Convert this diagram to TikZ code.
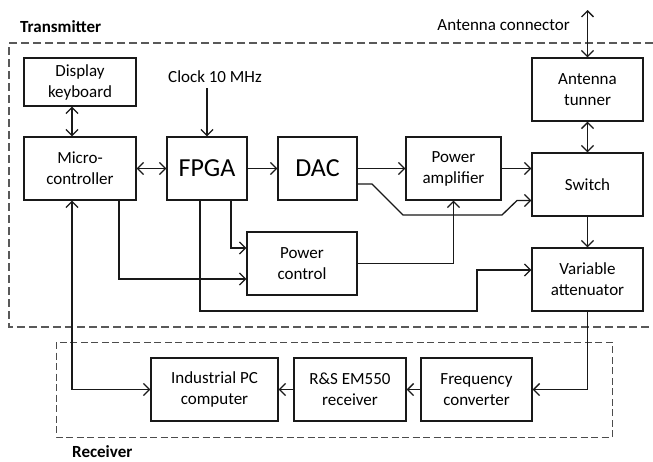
\documentclass[tikz,border=0pt]{standalone}
\usepackage{fontspec}
\setmainfont{Carlito}
\usetikzlibrary{arrows.meta}
\begin{document}
\begin{tikzpicture}[x=1pt,y=-1pt,
  every node/.style={font=\fontsize{17}{21}\selectfont},
  blk/.style={draw=black!90,line width=1.3pt,align=center,inner sep=0pt},
  big/.style={font=\fontsize{26}{30}\selectfont},
  conn/.style={line width=1.3pt,draw=black!90},
  tip/.style={-{Straight Barb[length=6pt,width=12pt,line width=1.3pt]}},
  dtip/.style={{Straight Barb[length=6pt,width=12pt,line width=1.3pt]}-{Straight Barb[length=6pt,width=12pt,line width=1.3pt]}},
  tx/.style={draw=black!65,line width=1.3pt,dash pattern=on 8pt off 4pt},
  rx/.style={draw=black!70,line width=1pt,dash pattern=on 7pt off 3.5pt},
  lbl/.style={font=\bfseries\fontsize{17}{21}\selectfont,anchor=west,inner sep=0pt}
]
\useasboundingbox (0,0) rectangle (653,461);
% group boxes
\draw[tx] (653,43) -- (9,43) -- (9,327) -- (653,327);
\draw[rx] (56,342) rectangle (612,437);
\node[lbl] (txl) at (20,27) {Transmitter};
\node[lbl] (rxl) at (72,452) {Receiver};
% blocks
\node[blk,minimum width=112pt,minimum height=48pt] (disp) at (80,82) {Display\\keyboard};
\node[blk,minimum width=112pt,minimum height=63pt] (micro) at (80,168.5) {Micro-\\controller};
\node[blk,big,minimum width=80pt,minimum height=63pt] (fpga) at (207,168.5) {FPGA};
\node[blk,big,minimum width=79pt,minimum height=63pt] (dac) at (317.5,168.5) {DAC};
\node[blk,minimum width=95pt,minimum height=63pt] (pa) at (453.5,168.5) {Power\\amplifier};
\node[blk,minimum width=111pt,minimum height=63pt] (tun) at (587.5,89.5) {Antenna\\tunner};
\node[blk,minimum width=111pt,minimum height=63pt] (sw) at (587.5,184.5) {Switch};
\node[blk,minimum width=110pt,minimum height=63pt] (pc) at (302,263.5) {Power\\control};
\node[blk,minimum width=111pt,minimum height=63pt] (va) at (587.5,279.5) {Variable\\attenuator};
\node[blk,minimum width=127pt,minimum height=63pt] (ipc) at (214.5,389.5) {Industrial PC\\computer};
\node[blk,minimum width=112pt,minimum height=63pt] (rs) at (350,389.5) {R\&S EM550\\receiver};
\node[blk,minimum width=111pt,minimum height=63pt] (fc) at (476.5,389.5) {Frequency\\converter};
% free texts
\node[anchor=east,inner sep=0pt] (antl) at (570,25) {Antenna connector};
\node[inner sep=0pt] (clk) at (215,77) {Clock 10 MHz};
\coordinate (antc) at (587.5,10);
% connectors
\draw[conn,dtip] ([xshift=-8pt]disp.south) -- ([xshift=-8pt]micro.north);
\draw[conn,dtip] (micro) -- (fpga);
\draw[conn,tip] (fpga) -- (dac);
\draw[conn,tip] (dac) -- (pa);
\draw[conn,tip] (pa.east) -- (pa.east -| sw.west);
\draw[conn,tip] ([yshift=-15.5pt]dac.east) -- (372,184) -- (403,215) -- (502,215) -- (517,200.5) -- (sw.west |- 0,200.5);
\draw[conn,dtip] (antc) -- (tun.north);
\draw[conn,dtip] (tun) -- (sw);
\draw[conn,tip] (sw) -- (va);
\draw[conn,tip] (fpga.north |- clk.south) ++(0,5) -- (fpga.north);
\draw[conn,tip] ([xshift=24pt]fpga.south) |- ([yshift=15.5pt]pc.west);
\draw[conn,tip] ([xshift=39pt]micro.south) |- ([yshift=-15.5pt]pc.west);
\draw[conn,tip] (pc.east) -| (pa.south);
\draw[conn,tip] ([xshift=-7pt]fpga.south) |- (477,311) |- ([yshift=9.5pt]va.west);
\draw[conn,dtip] ([xshift=-8pt]micro.south) |- (ipc.west);
\draw[conn,tip] (va.south) |- (fc.east);
\draw[conn,tip] (fc) -- (rs);
\draw[conn,tip] (rs) -- (ipc);
\end{tikzpicture}
\end{document}
